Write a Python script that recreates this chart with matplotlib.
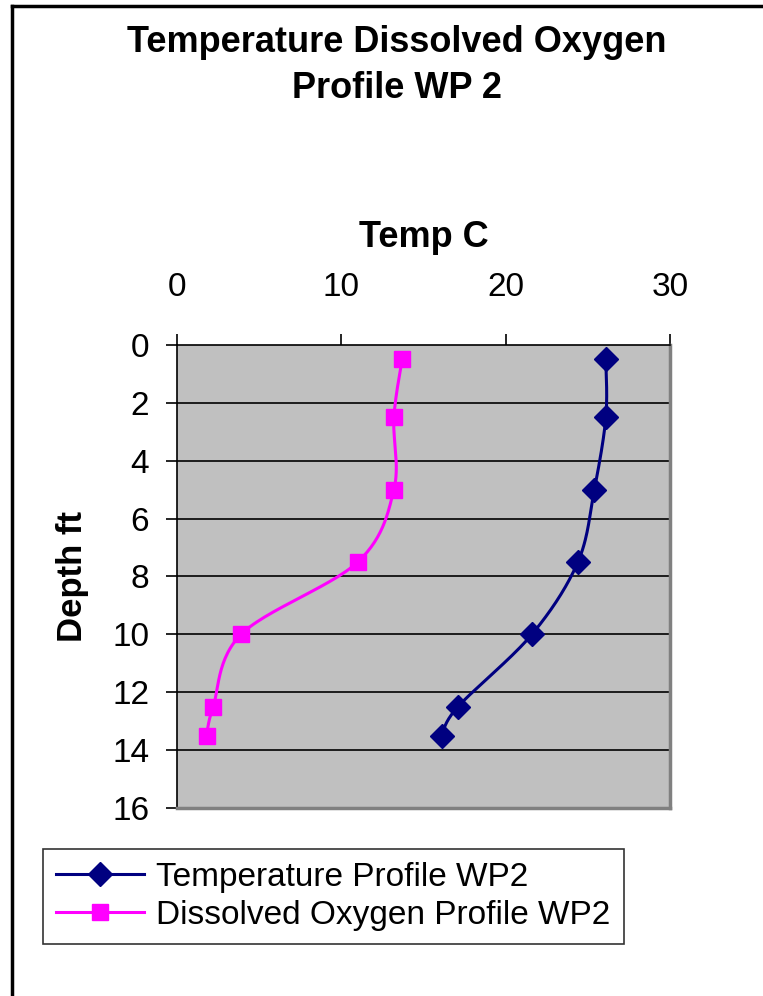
import numpy as np
import matplotlib.pyplot as plt
from matplotlib.lines import Line2D

plt.rcParams['font.family'] = ['Liberation Sans', 'DejaVu Sans']

# sample depths (ft) and readings
depth = [0.5, 2.5, 5.0, 7.5, 10.0, 12.5, 13.5]
temp_c = [26.1, 26.1, 25.4, 24.4, 21.6, 17.1, 16.1]
oxygen = [13.7, 13.2, 13.2, 11.0, 3.9, 2.2, 1.8]

x_ticks = [0, 10, 20, 30]
y_ticks = [0, 2, 4, 6, 8, 10, 12, 14, 16]

NAVY = '#000080'
MAGENTA = '#FF00FF'


def smooth(xs, ys, n=30):
    # Catmull-Rom path through the points, like a spreadsheet "smoothed line"
    p = np.column_stack([xs, ys]).astype(float)
    p = np.vstack([p[0], p, p[-1]])
    out = []
    t = np.linspace(0, 1, n)[:, None]
    for i in range(1, len(p) - 2):
        p0, p1, p2, p3 = p[i - 1], p[i], p[i + 1], p[i + 2]
        seg = 0.5 * ((2 * p1) + (-p0 + p2) * t
                     + (2 * p0 - 5 * p1 + 4 * p2 - p3) * t ** 2
                     + (-p0 + 3 * p1 - 3 * p2 + p3) * t ** 3)
        out.append(seg)
    out = np.vstack(out)
    return out[:, 0], out[:, 1]


fig = plt.figure(figsize=(7.63, 9.96), dpi=100)
ax = fig.add_axes([0.232, 0.1888, 0.646, 0.4648])
ax.set_facecolor('#C0C0C0')

for series, col, mk, ms in [(temp_c, NAVY, 'D', 12), (oxygen, MAGENTA, 's', 12)]:
    sx, sy = smooth(series, depth)
    ax.plot(sx, sy, color=col, lw=2.2, zorder=3)
    ax.plot(series, depth, ls='none', marker=mk, ms=ms, color=col, zorder=4)

ax.set_xlim(0, 30)
ax.set_ylim(16, 0)
ax.set_xticks(x_ticks)
ax.set_yticks(y_ticks)
ax.xaxis.tick_top()
ax.xaxis.set_label_position('top')
ax.tick_params(axis='both', labelsize=24, length=8, width=1.2, color='black', direction='out')
ax.tick_params(axis='x', pad=22)
ax.tick_params(axis='y', pad=12)
for yv in y_ticks[1:-1]:
    ax.axhline(yv, color='black', lw=1.2, zorder=1)

ax.spines['left'].set_color('black')
ax.spines['top'].set_color('black')
ax.spines['left'].set_linewidth(1.2)
ax.spines['top'].set_linewidth(1.2)
ax.spines['right'].set_color('#808080')
ax.spines['bottom'].set_color('#808080')
ax.spines['right'].set_linewidth(2.5)
ax.spines['bottom'].set_linewidth(2.5)

ax.set_xlabel('Temp C', fontsize=26, fontweight='bold', labelpad=18)
ax.set_ylabel('Depth ft', fontsize=25, fontweight='bold', labelpad=17)

fig.text(0.52, 0.975, 'Temperature Dissolved Oxygen\nProfile WP 2', ha='center', va='top',
         fontsize=26, fontweight='bold', linespacing=1.42)

handles = [Line2D([], [], color=NAVY, lw=2.2, marker='D', ms=12),
           Line2D([], [], color=MAGENTA, lw=2.2, marker='s', ms=12)]
leg = fig.legend(handles, ['Temperature Profile WP2', 'Dissolved Oxygen Profile WP2'],
                 loc='upper left', bbox_to_anchor=(0.056, 0.148), fontsize=24,
                 frameon=True, fancybox=False, edgecolor='black', handlelength=2.65,
                 handletextpad=0.35, borderpad=0.4, labelspacing=0.2, borderaxespad=0)
leg.get_frame().set_linewidth(1.2)

# outer border on the left and top edges
fig.add_artist(Line2D([12 / 763, 12 / 763], [0, 1 - 6 / 996], color='black', lw=2.5,
                      transform=fig.transFigure))
fig.add_artist(Line2D([12 / 763, 1], [1 - 6 / 996, 1 - 6 / 996], color='black', lw=2.5,
                      transform=fig.transFigure))

fig.savefig('out.png', dpi=100)
